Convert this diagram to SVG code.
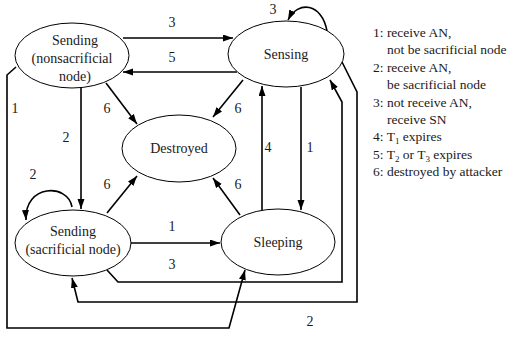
<svg xmlns="http://www.w3.org/2000/svg" width="521" height="337" viewBox="0 0 521 337">
<defs>
<marker id="ah" markerUnits="userSpaceOnUse" markerWidth="11" markerHeight="8" refX="10" refY="3.5" orient="auto">
<path d="M0,0 L10,3.5 L0,7 z" fill="#000"/>
</marker>
<style>
.n ellipse{fill:#fff;stroke:#000;stroke-width:1}
.t{font-size:14px;text-anchor:middle}
.l{font-size:14px;text-anchor:middle}
.g{font-size:13.5px}
#edges path{fill:none;stroke:#000;stroke-width:1.6}
.a{marker-end:url(#ah)}
</style>
</defs>
<rect width="521" height="337" fill="#fff"/>
<g font-family="'Liberation Serif', 'DejaVu Serif', serif" fill="#1a1a1a">
<g id="edges">
<path class="a" d="M123 38 L233 38"/>
<path class="a" d="M237 72 L123 72"/>
<path class="a" d="M106 83 L137 124"/>
<path class="a" d="M243 80 L213 117"/>
<path class="a" d="M81 88 L81 209"/>
<path class="a" d="M16 67 L7 75 L7 328 L229 328 L245 270"/>
<path class="a" d="M301 87 L301 210"/>
<path class="a" d="M262 210 L262 86"/>
<path class="a" d="M240 215 L213 178"/>
<path class="a" d="M107 213 L137 176"/>
<path class="a" d="M131 243 L220 243"/>
<path class="a" d="M72 207 C68 183 24 184 26 220"/>
<path class="a" d="M327 31 C322 3 298 0 288 20"/>
<path class="a" d="M107 270 L118 282 L342 282 L342 102 L330 80"/>
<path class="a" d="M342 62 L357 92 L357 302 L78 302 L72 278"/>
<text class="l" x="172" y="27">3</text>
<text class="l" x="172" y="62">5</text>
<text class="l" x="107" y="113">6</text>
<text class="l" x="238" y="113">6</text>
<text class="l" x="15" y="113">1</text>
<text class="l" x="66" y="142">2</text>
<text class="l" x="33" y="179">2</text>
<text class="l" x="107" y="189">6</text>
<text class="l" x="238" y="189">6</text>
<text class="l" x="172" y="231">1</text>
<text class="l" x="172" y="269">3</text>
<text class="l" x="310" y="326">2</text>
<text class="l" x="268" y="152">4</text>
<text class="l" x="310" y="152">1</text>
<text class="l" x="273" y="14">3</text>
</g>
<g id="nonsac" class="n">
<ellipse cx="72" cy="55.5" rx="57" ry="32.5"/>
<text class="t" x="75" y="45">Sending</text>
<text class="t" x="72" y="63">(nonsacrificial</text>
<text class="t" x="75" y="81">node)</text>
</g>
<g id="sensing" class="n">
<ellipse cx="286" cy="54" rx="58" ry="33"/>
<text class="t" x="286" y="59">Sensing</text>
</g>
<g id="destroyed" class="n">
<ellipse cx="179" cy="148.5" rx="57" ry="33.5"/>
<text class="t" x="179" y="153">Destroyed</text>
</g>
<g id="sac" class="n">
<ellipse cx="73" cy="243" rx="58" ry="33"/>
<text class="t" x="73" y="236">Sending</text>
<text class="t" x="73" y="254">(sacrificial node)</text>
</g>
<g id="sleeping" class="n">
<ellipse cx="278" cy="242" rx="57" ry="33"/>
<text class="t" x="278" y="247">Sleeping</text>
</g>
<g id="legend" class="g">
<text x="373" y="37">1: receive AN,</text>
<text x="387" y="54">not be sacrificial node</text>
<text x="373" y="72">2: receive AN,</text>
<text x="387" y="89">be sacrificial node</text>
<text x="373" y="107">3: not receive AN,</text>
<text x="387" y="124">receive SN</text>
<text x="373" y="141">4: T<tspan font-size="9" dy="3">1</tspan><tspan dy="-3"> expires</tspan></text>
<text x="373" y="159">5: T<tspan font-size="9" dy="3">2</tspan><tspan dy="-3"> or T</tspan><tspan font-size="9" dy="3">3</tspan><tspan dy="-3"> expires</tspan></text>
<text x="373" y="176">6: destroyed by attacker</text>
</g>
</g>
</svg>
